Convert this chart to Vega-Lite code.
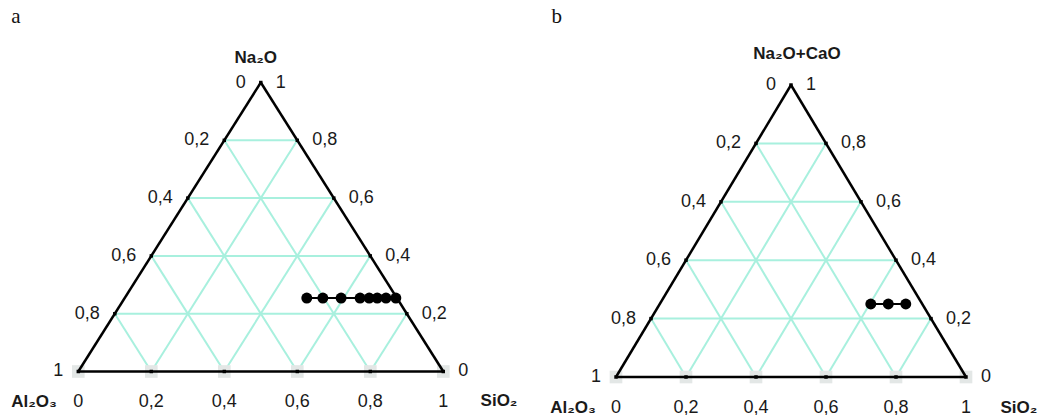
{
  "$schema": "https://vega.github.io/schema/vega-lite/v6.json",
  "padding": 0,
  "spacing": 0,
  "background": "white",
  "config": {"view": {"stroke": null}, "concat": {"spacing": 0}},
  "datasets": {
    "grid": [
      {"x": 0.1, "y": 0.2, "x2": 0.9, "y2": 0.2},
      {"x": 0.2, "y": 0.4, "x2": 0.8, "y2": 0.4},
      {"x": 0.3, "y": 0.6, "x2": 0.7, "y2": 0.6},
      {"x": 0.4, "y": 0.8, "x2": 0.6, "y2": 0.8},
      {"x": 0.2, "y": 0, "x2": 0.6, "y2": 0.8},
      {"x": 0.4, "y": 0, "x2": 0.7, "y2": 0.6},
      {"x": 0.6, "y": 0, "x2": 0.8, "y2": 0.4},
      {"x": 0.8, "y": 0, "x2": 0.9, "y2": 0.2},
      {"x": 0.2, "y": 0, "x2": 0.1, "y2": 0.2},
      {"x": 0.4, "y": 0, "x2": 0.2, "y2": 0.4},
      {"x": 0.6, "y": 0, "x2": 0.3, "y2": 0.6},
      {"x": 0.8, "y": 0, "x2": 0.4, "y2": 0.8}
    ],
    "edges": [
      {"x": 0, "y": 0, "x2": 1, "y2": 0},
      {"x": 0, "y": 0, "x2": 0.5, "y2": 1},
      {"x": 1, "y": 0, "x2": 0.5, "y2": 1}
    ],
    "ticks": [
      {"x": 0.1, "y": 0.2}, {"x": 0.2, "y": 0.4}, {"x": 0.3, "y": 0.6}, {"x": 0.4, "y": 0.8},
      {"x": 0.9, "y": 0.2}, {"x": 0.8, "y": 0.4}, {"x": 0.7, "y": 0.6}, {"x": 0.6, "y": 0.8},
      {"x": 0.2, "y": 0}, {"x": 0.4, "y": 0}, {"x": 0.6, "y": 0}, {"x": 0.8, "y": 0},
      {"x": 0, "y": 0}, {"x": 1, "y": 0}, {"x": 0.5, "y": 1}
    ],
    "shadows": [
      {"x": 0, "y": 0}, {"x": 0.2, "y": 0}, {"x": 0.4, "y": 0},
      {"x": 0.6, "y": 0}, {"x": 0.8, "y": 0}, {"x": 1, "y": 0}
    ],
    "leftLabels": [
      {"x": 0.5, "y": 1, "text": "0"},
      {"x": 0.4, "y": 0.8, "text": "0,2"},
      {"x": 0.3, "y": 0.6, "text": "0,4"},
      {"x": 0.2, "y": 0.4, "text": "0,6"},
      {"x": 0.1, "y": 0.2, "text": "0,8"},
      {"x": 0, "y": 0, "text": "1"}
    ],
    "rightLabels": [
      {"x": 0.5, "y": 1, "text": "1"},
      {"x": 0.6, "y": 0.8, "text": "0,8"},
      {"x": 0.7, "y": 0.6, "text": "0,6"},
      {"x": 0.8, "y": 0.4, "text": "0,4"},
      {"x": 0.9, "y": 0.2, "text": "0,2"},
      {"x": 1, "y": 0, "text": "0"}
    ],
    "bottomLabels": [
      {"x": 0, "y": 0, "text": "0"},
      {"x": 0.2, "y": 0, "text": "0,2"},
      {"x": 0.4, "y": 0, "text": "0,4"},
      {"x": 0.6, "y": 0, "text": "0,6"},
      {"x": 0.8, "y": 0, "text": "0,8"},
      {"x": 1, "y": 0, "text": "1"}
    ],
    "ptsA": [
      {"x": 0.626, "y": 0.254}, {"x": 0.670, "y": 0.254}, {"x": 0.720, "y": 0.254},
      {"x": 0.772, "y": 0.254}, {"x": 0.797, "y": 0.254}, {"x": 0.819, "y": 0.254},
      {"x": 0.843, "y": 0.254}, {"x": 0.870, "y": 0.254}
    ],
    "ptsB": [
      {"x": 0.728, "y": 0.25}, {"x": 0.778, "y": 0.25}, {"x": 0.828, "y": 0.25}
    ],
    "namesA": [
      {"x": 0.486, "y": 1.085, "text": "Na₂O"},
      {"x": -0.1214, "y": -0.1045, "text": "Al₂O₃"},
      {"x": 1.1526, "y": -0.102, "text": "SiO₂"}
    ],
    "namesB": [
      {"x": 0.517, "y": 1.106, "text": "Na₂O+CaO"},
      {"x": -0.1229, "y": -0.106, "text": "Al₂O₃"},
      {"x": 1.151, "y": -0.106, "text": "SiO₂"}
    ],
    "letterA": [{"x": -0.1707, "y": 1.2266, "text": "a"}],
    "letterB": [{"x": -0.1694, "y": 1.2339, "text": "b"}]
  },
  "hconcat": [
    {
      "width": 520,
      "height": 415,
      "encoding": {
        "x": {"field": "x", "type": "quantitative", "axis": null, "scale": {"domain": [-0.21452, 1.21014], "nice": false, "zero": false}},
        "y": {"field": "y", "type": "quantitative", "axis": null, "scale": {"domain": [-0.15052, 1.28547], "nice": false, "zero": false}}
      },
      "layer": [
        {"data": {"name": "grid"}, "mark": {"type": "rule", "color": "#a8f0de", "strokeWidth": 2}, "encoding": {"x2": {"field": "x2"}, "y2": {"field": "y2"}}},
        {"data": {"name": "shadows"}, "mark": {"type": "point", "shape": "square", "filled": true, "size": 160, "color": "#e3e7e6", "opacity": 1}},
        {"data": {"name": "edges"}, "mark": {"type": "rule", "color": "black", "strokeWidth": 2.5}, "encoding": {"x2": {"field": "x2"}, "y2": {"field": "y2"}}},
        {"data": {"name": "ticks"}, "mark": {"type": "point", "shape": "square", "filled": true, "size": 12, "color": "black", "opacity": 1}},
        {"data": {"name": "ptsA"}, "mark": {"type": "line", "color": "black", "strokeWidth": 2}},
        {"data": {"name": "ptsA"}, "mark": {"type": "circle", "size": 120, "color": "black", "opacity": 1}},
        {"data": {"name": "leftLabels"}, "mark": {"type": "text", "align": "right", "baseline": "middle", "dx": -15, "font": "Liberation Sans", "fontSize": 18, "color": "#1a1a1a"}, "encoding": {"text": {"field": "text"}}},
        {"data": {"name": "rightLabels"}, "mark": {"type": "text", "align": "left", "baseline": "middle", "dx": 15, "font": "Liberation Sans", "fontSize": 18, "color": "#1a1a1a"}, "encoding": {"text": {"field": "text"}}},
        {"data": {"name": "bottomLabels"}, "mark": {"type": "text", "align": "center", "baseline": "middle", "dy": 31, "font": "Liberation Sans", "fontSize": 18, "color": "#1a1a1a"}, "encoding": {"text": {"field": "text"}}},
        {"data": {"name": "namesA"}, "mark": {"type": "text", "align": "center", "baseline": "middle", "font": "Liberation Sans", "fontSize": 17, "fontWeight": "bold", "color": "#1a1a1a"}, "encoding": {"text": {"field": "text"}}},
        {"data": {"name": "letterA"}, "mark": {"type": "text", "align": "center", "baseline": "middle", "font": "Liberation Serif", "fontSize": 21, "color": "#111"}, "encoding": {"text": {"field": "text"}}}
      ]
    },
    {
      "width": 519,
      "height": 415,
      "encoding": {
        "x": {"field": "x", "type": "quantitative", "axis": null, "scale": {"domain": [-0.27429, 1.20857], "nice": false, "zero": false}},
        "y": {"field": "y", "type": "quantitative", "axis": null, "scale": {"domain": [-0.13014, 1.2911], "nice": false, "zero": false}}
      },
      "layer": [
        {"data": {"name": "grid"}, "mark": {"type": "rule", "color": "#a8f0de", "strokeWidth": 2}, "encoding": {"x2": {"field": "x2"}, "y2": {"field": "y2"}}},
        {"data": {"name": "shadows"}, "mark": {"type": "point", "shape": "square", "filled": true, "size": 160, "color": "#e3e7e6", "opacity": 1}},
        {"data": {"name": "edges"}, "mark": {"type": "rule", "color": "black", "strokeWidth": 2.5}, "encoding": {"x2": {"field": "x2"}, "y2": {"field": "y2"}}},
        {"data": {"name": "ticks"}, "mark": {"type": "point", "shape": "square", "filled": true, "size": 12, "color": "black", "opacity": 1}},
        {"data": {"name": "ptsB"}, "mark": {"type": "line", "color": "black", "strokeWidth": 2}},
        {"data": {"name": "ptsB"}, "mark": {"type": "circle", "size": 120, "color": "black", "opacity": 1}},
        {"data": {"name": "leftLabels"}, "mark": {"type": "text", "align": "right", "baseline": "middle", "dx": -15, "font": "Liberation Sans", "fontSize": 18, "color": "#1a1a1a"}, "encoding": {"text": {"field": "text"}}},
        {"data": {"name": "rightLabels"}, "mark": {"type": "text", "align": "left", "baseline": "middle", "dx": 15, "font": "Liberation Sans", "fontSize": 18, "color": "#1a1a1a"}, "encoding": {"text": {"field": "text"}}},
        {"data": {"name": "bottomLabels"}, "mark": {"type": "text", "align": "center", "baseline": "middle", "dy": 31, "font": "Liberation Sans", "fontSize": 18, "color": "#1a1a1a"}, "encoding": {"text": {"field": "text"}}},
        {"data": {"name": "namesB"}, "mark": {"type": "text", "align": "center", "baseline": "middle", "font": "Liberation Sans", "fontSize": 17, "fontWeight": "bold", "color": "#1a1a1a"}, "encoding": {"text": {"field": "text"}}},
        {"data": {"name": "letterB"}, "mark": {"type": "text", "align": "center", "baseline": "middle", "font": "Liberation Serif", "fontSize": 21, "color": "#111"}, "encoding": {"text": {"field": "text"}}}
      ]
    }
  ]
}
